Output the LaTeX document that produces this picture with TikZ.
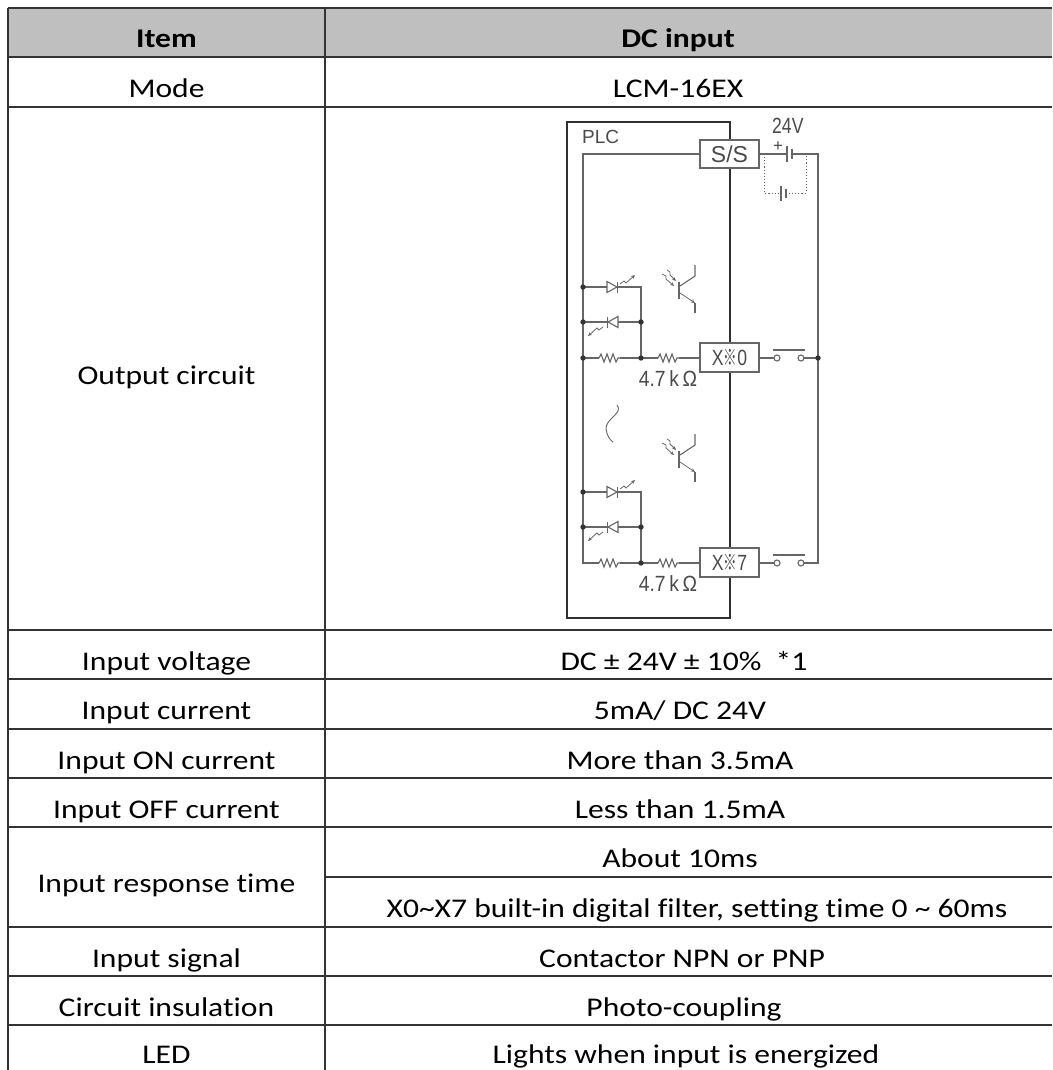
\documentclass[tikz,border=0pt]{standalone}
\usepackage{fontspec}
\setmainfont[FakeStretch=1.17,Ligatures=NoCommon]{Carlito}
\newfontfamily\circfont{Liberation Sans}
\newfontfamily\circnarrow[FakeStretch=0.8]{Liberation Sans}
\newfontfamily\circmid[FakeStretch=0.88]{Liberation Sans}
\newfontfamily\cjkf{Noto Sans CJK SC}
\usetikzlibrary{arrows.meta}
\definecolor{tline}{HTML}{333333}
\definecolor{hdr}{HTML}{BFBFBF}
\definecolor{wirec}{HTML}{666666}
\definecolor{plcc}{HTML}{303030}
\definecolor{ctext}{HTML}{4A4A4A}
\newcommand{\refmark}{{\cjkf\scalebox{0.62}[1]{※}}}
\begin{document}
\begin{tikzpicture}[x=1pt,y=-1pt,
  tl/.style={draw=tline,line width=1.6pt},
  cell/.style={anchor=base,inner sep=0pt,font=\fontsize{27}{32}\selectfont},
  wire/.style={draw=wirec,line width=1.1pt},
  plcbox/.style={draw=plcc,line width=2.2pt},
  term/.style={draw=wirec,fill=white,line width=1.1pt,minimum width=59pt,minimum height=28pt,inner sep=0pt,text=ctext},
  arr/.style={draw=wirec,line width=0.8pt,-{Stealth[length=4pt,width=3.5pt]}},
  resistor/.pic={\draw[wire] (0,0) -- (2,-4) -- (5,4) -- (8,-4) -- (11,4) -- (14,-4) -- (17,4) -- (19,0) -- (21,0);},
  dioderight/.pic={\draw[wire,fill=white] (0,-5.5) -- (10,0) -- (0,5.5) -- cycle;
     \draw[wire] (10.5,-5.5) -- (10.5,5.5);
     \draw[arr] (13,-3) -- (17,-6) -- (19,-4) -- (28,-12);},
  diodeleft/.pic={\draw[wire,fill=white] (11,-5.5) -- (1,0) -- (11,5.5) -- cycle;
     \draw[wire] (0.5,-5.5) -- (0.5,5.5);
     \draw[arr] (-4,5) -- (-8,8) -- (-10,6) -- (-19,14);},
  transist/.pic={\draw[wire] (0,-8.5) -- (0,8.5);
     \draw[wire] (1,-4) -- (16,-14) -- (16,-25);
     \draw[wire] (16,13) -- (16,23);
     \draw[arr] (1,3) -- (16,13);
     \draw[arr] (-17,-16) -- (-13,-14) -- (-13,-11) -- (-5,-4);
     \draw[arr] (-12,-20) -- (-9,-18) -- (-9,-15) -- (-3,-9);},
]
\useasboundingbox (0,0) rectangle (1052,1070);
% ---------- table ----------
\fill[hdr] (8,8) rectangle (1052,57);
\foreach \yy in {8,57,107,630,679,729,778,827,927,976,1025}
  \draw[tl] (8,\yy) -- (1052,\yy);
\draw[tl] (325,877) -- (1052,877);
\draw[tl] (8,8) -- (8,1070);
\draw[tl] (325,8) -- (325,1070);
% left column
\node[cell] (l0) at (166.5,48) {\bfseries Item};
\node[cell] (l1) at (166.5,97.5) {Mode};
\node[cell] (l2) at (166.5,384) {Output circuit};
\node[cell] (l3) at (166.5,670) {Input voltage};
\node[cell] (l4) at (166.5,719.5) {Input current};
\node[cell] (l5) at (166.5,769) {Input ON current};
\node[cell] (l6) at (166.5,818) {Input OFF current};
\node[cell] (l7) at (166.5,892.5) {Input response time};
\node[cell] (l8) at (166.5,967) {Input signal};
\node[cell] (l9) at (166.5,1016) {Circuit insulation};
\node[cell] (l10) at (166.5,1063) {LED};
% right column
\node[cell] (r0) at (678,48) {\bfseries DC input};
\node[cell] (r1) at (678,97.5) {LCM-16EX};
\node[cell] (r3) at (684,670) {DC ± 24V ± 10\%\ \ *1};
\node[cell] (r4) at (680,719.5) {5mA/ DC 24V};
\node[cell] (r5) at (680,769) {More than 3.5mA};
\node[cell] (r6) at (680,818) {Less than 1.5mA};
\node[cell] (r7a) at (680,867.5) {About 10ms};
\node[cell] (r7b) at (697,917.5) {X0\textasciitilde X7 built-in digital filter, setting time 0 \textasciitilde{} 60ms};
\node[cell] (r8) at (682,967) {Contactor NPN or PNP};
\node[cell] (r9) at (684,1016) {Photo-coupling};
\node[cell] (r10) at (686,1063) {Lights when input is energized};
% ---------- circuit ----------
\draw[plcbox] (567,122) rectangle (730,618);
\node[anchor=base west,inner sep=0pt,text=ctext,font=\circfont\fontsize{19}{19}\selectfont] (plc) at (582,143) {PLC};
% left rail and top wire
\draw[wire] (700,154) -- (583,154) -- (583,563) -- (599,563);
% right rail with battery
\draw[wire] (759,154) -- (787,154);
\draw[wire] (787,146) -- (787,162);
\draw[wire,line width=1.6pt] (792,149) -- (792,159);
\draw[wire] (792,154) -- (818,154) -- (818,563) -- (804,563);
\draw[wire,dotted,line width=0.9pt] (764,154) -- (764,193) -- (780,193);
\draw[wire,dotted,line width=0.9pt] (789,193) -- (806,193) -- (806,154);
\draw[wire] (781,186) -- (781,201);
\draw[wire,line width=1.6pt] (786,189) -- (786,198);
\node[anchor=base west,inner sep=0pt,text=ctext,font=\circnarrow\fontsize{22}{22}\selectfont] (v24) at (772,134) {24V};
\node[anchor=center,inner sep=0pt,text=ctext,font=\circfont\fontsize{17}{17}\selectfont] (plus) at (778,147) {+};
% two input groups
\foreach \dy in {0,205} {
  \begin{scope}[yshift=-\dy pt]
    \draw[wire] (583,287) -- (607,287);
    \pic at (607,287) {dioderight};
    \draw[wire] (618,287) -- (641,287) -- (641,358);
    \draw[wire] (583,322) -- (607,322);
    \pic at (607,322) {diodeleft};
    \draw[wire] (618,322) -- (641,322);
    \draw[wire] (583,358) -- (599,358);
    \pic at (599,358) {resistor};
    \draw[wire] (620,358) -- (658,358);
    \pic at (658,358) {resistor};
    \draw[wire] (679,358) -- (700,358);
    \fill[black!80] (583,287) circle (2.7);
    \fill[black!80] (583,322) circle (2.7);
    \fill[black!80] (641,322) circle (2.7);
    \fill[black!80] (641,358) circle (2.7);
    \node[anchor=base,inner sep=0pt,text=ctext,font=\circmid\fontsize{22}{22}\selectfont] at (668,386) {4.7\,k\,Ω};
    % switch
    \draw[wire] (759,358) -- (774,358);
    \draw[wire] (777,358) circle (3);
    \draw[wire] (801,358) circle (3);
    \draw[wire] (773,350) -- (805,350);
    \draw[wire] (804,358) -- (818,358);
  \end{scope}
}
\fill[black!80] (583,358) circle (2.7);
\fill[black!80] (818,358) circle (2.7);
\pic at (679,290) {transist};
\pic at (679,459) {transist};
\draw[wire,line width=0.9pt] (617,405) .. controls (624,413) and (605,419) .. (606,429) .. controls (607,436) and (610,440) .. (613,442);
% terminal boxes
\node[term,font=\circfont\fontsize{23}{23}\selectfont] (ss) at (729.5,154) {S/S};
\node[term,minimum height=29pt,font=\circnarrow\fontsize{22}{22}\selectfont] (x0) at (729.5,357.5) {X\refmark0};
\node[term,minimum height=29pt,font=\circnarrow\fontsize{22}{22}\selectfont] (x7) at (729.5,562.5) {X\refmark7};
\end{tikzpicture}
\end{document}
